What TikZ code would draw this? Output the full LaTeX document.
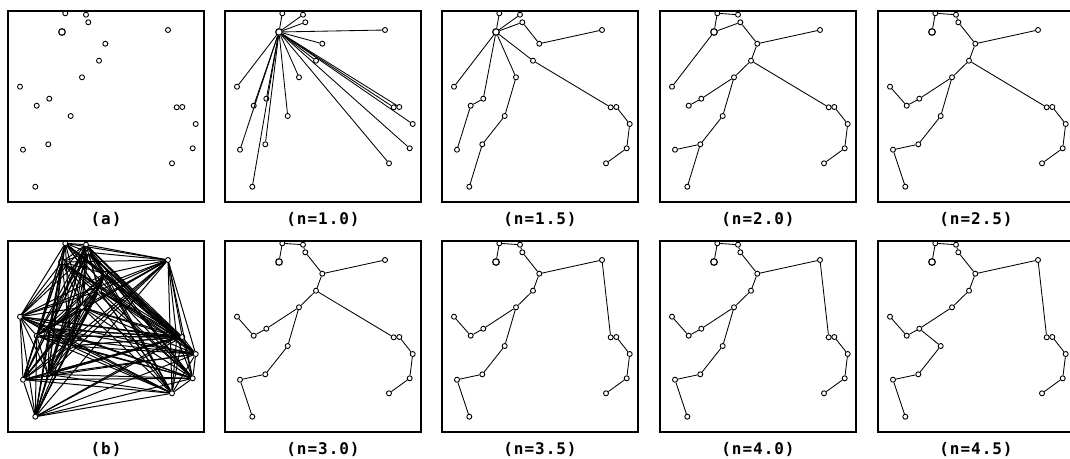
\documentclass[tikz,border=0pt]{standalone}
\usepackage{fontspec}
\newfontfamily\labfont[LetterSpace=6]{DejaVu Sans Mono}
\tikzset{
  pt/.style={circle,draw,line width=0.9pt,inner sep=0pt,minimum size=5pt},
  hub/.style={pt,minimum size=6.6pt,line width=1.2pt},
  edge/.style={line width=0.85pt},
  dense/.style={line width=1pt},
  frame/.style={draw,line width=1.2pt},
  lab/.style={font=\labfont\bfseries\fontsize{16}{18}\selectfont,inner sep=0pt}
}
\newcommand\mkpanel[4]{%
  \draw[frame] (#2,#3) rectangle ++(196,191);
  \foreach \i/\x/\y in {1/57.3/2.3,2/78/3.7,3/80.3/11.3,5/160/19,6/97.3/32.7,7/91/49.7,8/74/66.3,9/12/75.7,10/41.3/87.7,11/28.7/94.7,12/62.7/105,13/168.7/96.3,14/174.3/96,15/187.7/113,16/15/138.7,17/40.3/133.3,18/184.7/137.3,19/164/152.3,20/27.3/175.7}
    {\node[pt] (#1-\i) at (#2+\x,#3+\y) {};}
  \node[hub] (#1-4) at (#2+54,#3+21) {};
  \node[lab] (#1-lab) at (#2+98,#3+208) {#4};
}
\newcommand\mkedges[2]{\foreach \a/\b in {#2} {\draw[edge] (#1-\a) -- (#1-\b);}}
\begin{document}
\begin{tikzpicture}[x=1pt,y=-1pt]
\useasboundingbox (0,0) rectangle (1070,458);
\clip (0,0) rectangle (1070,458);
% top row
\mkpanel{pa}{8}{11}{(a)}
\mkpanel{pA}{225}{11}{(n=1.0)}
\mkpanel{pB}{442}{11}{(n=1.5)}
\mkpanel{pC}{660}{11}{(n=2.0)}
\mkpanel{pD}{878}{11}{(n=2.5)}
% bottom row
\mkpanel{pb}{8}{241}{(b)}
\mkpanel{pE}{225}{241}{(n=3.0)}
\mkpanel{pF}{442}{241}{(n=3.5)}
\mkpanel{pG}{660}{241}{(n=4.0)}
\mkpanel{pH}{878}{241}{(n=4.5)}
% n=1.0 : star
\foreach \b in {1,2,3,5,6,7,8,9,10,11,12,13,14,15,16,17,18,19,20} {\draw[edge] (pA-4) -- (pA-\b);}
% n=1.5
\mkedges{pB}{4/1,4/2,4/3,3/6,6/5,4/7,7/13,13/14,14/15,15/18,18/19,4/9,4/10,10/11,11/16,4/8,8/12,12/17,17/20}
% n=2.0
\mkedges{pC}{1/2,1/4,4/3,3/6,6/5,6/7,7/13,13/14,14/15,15/18,18/19,4/9,7/8,8/10,10/11,8/12,12/17,17/16,17/20}
% n=2.5
\mkedges{pD}{4/1,1/2,2/3,3/6,6/5,6/7,7/13,13/14,14/15,15/18,18/19,7/8,8/10,10/11,11/9,8/12,12/17,17/16,16/20}
% n=3.0
\mkedges{pE}{4/1,1/2,2/3,3/6,6/5,6/7,7/13,13/14,14/15,15/18,18/19,7/8,8/10,10/11,11/9,8/12,12/17,17/16,16/20}
% n=3.5
\mkedges{pF}{4/1,1/2,2/3,3/6,6/5,5/13,13/14,14/15,15/18,18/19,6/7,7/8,8/10,10/11,11/9,8/12,12/17,17/16,16/20}
% n=4.0
\mkedges{pG}{4/1,1/2,2/3,3/6,6/5,5/13,13/14,14/15,15/18,18/19,6/7,7/8,8/10,10/11,11/9,8/12,12/17,17/16,16/20}
% n=4.5
\mkedges{pH}{4/1,1/2,2/3,3/6,6/5,5/13,13/14,14/15,15/18,18/19,6/7,7/8,8/10,10/11,11/9,10/12,12/17,17/16,16/20}
% (b) complete graph
\foreach \a in {1,...,19} {
  \pgfmathtruncatemacro\nxt{\a+1}
  \foreach \b in {\nxt,...,20} {\draw[dense] (pb-\a) -- (pb-\b);}
}
\end{tikzpicture}
\end{document}
